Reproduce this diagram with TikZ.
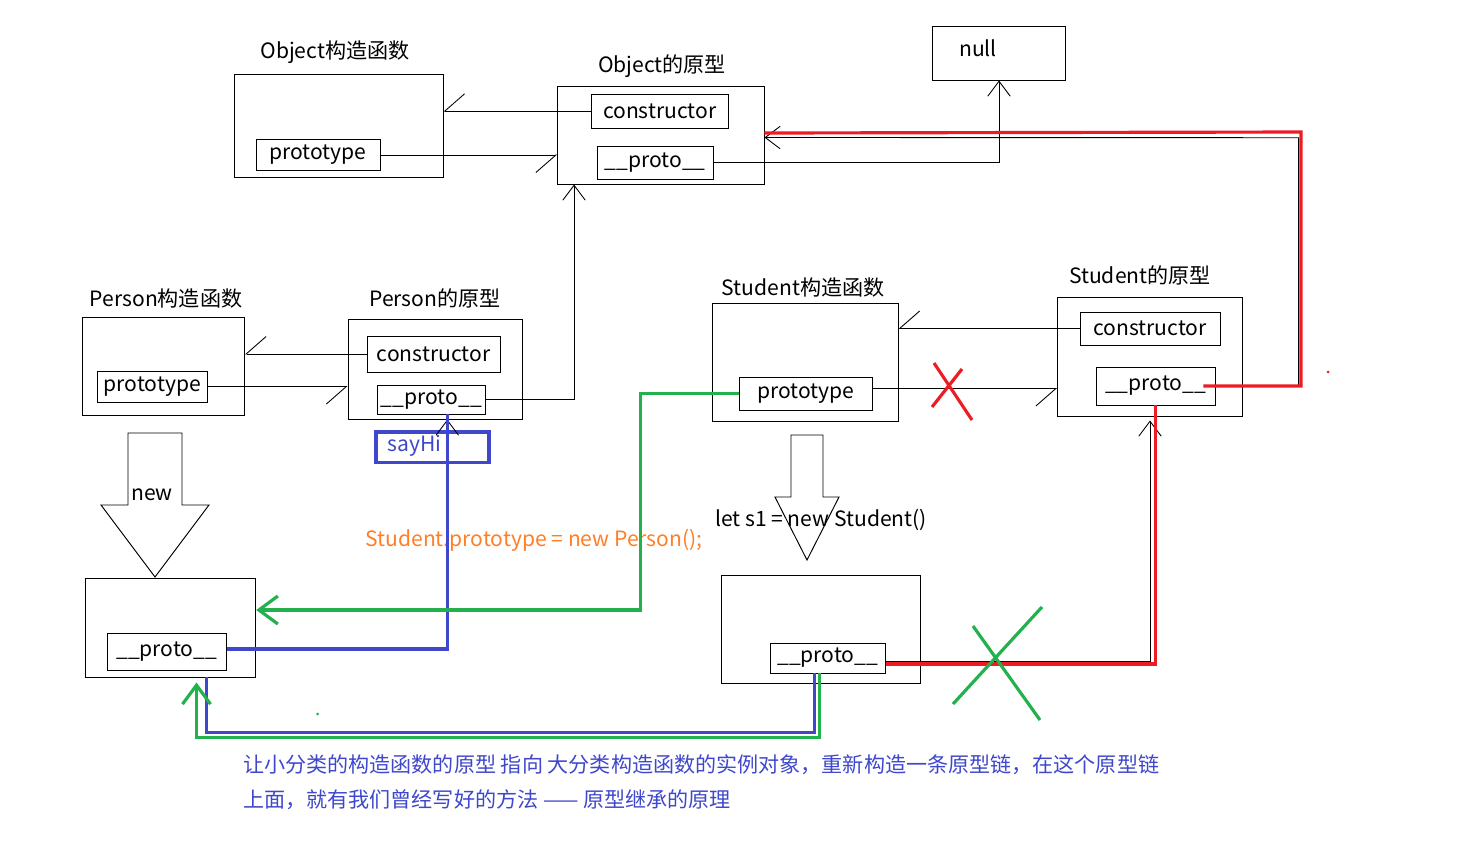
\documentclass[tikz,border=0pt]{standalone}
\usepackage{fontspec}
\setmainfont{Noto Sans CJK SC}
\usetikzlibrary{arrows.meta}
\definecolor{paintred}{RGB}{237,28,36}
\definecolor{paintgreen}{RGB}{34,177,76}
\definecolor{paintblue}{RGB}{63,72,204}
\definecolor{paintorange}{RGB}{255,127,39}

\begin{document}
\begin{tikzpicture}[x=0.02cm,y=-0.02cm,
    font=\fontsize{12}{14}\selectfont,
    box/.style={draw,line width=0.55pt,inner sep=0pt},
    half/.style={line width=0.5pt,-{Straight Barb[harpoon,swap,length=0.4cm,width=0.7cm]}},
    vee/.style={line width=0.5pt,-{Straight Barb[length=0.3cm,width=0.45cm]}},
    redline/.style={paintred,line width=1.8pt},
    greenline/.style={paintgreen,line width=1.8pt},
    greenarr/.style={greenline,-{Straight Barb[length=0.38cm,width=0.56cm]}},
    blueline/.style={paintblue,line width=1.8pt}]
  \fill[white] (0,0) rectangle (1468,850);
  \useasboundingbox (0,0) rectangle (1468,850);
  % Object
  \node[box,minimum width=4.18cm,minimum height=2.06cm] (objfn) at (338.5,125.5) {};
  \node[box,minimum width=2.48cm,minimum height=0.62cm] (objfnpt) at (318,155) {prototype};
  \node[box,minimum width=4.13cm,minimum height=1.96cm] (objproto) at (660.75,135) {};
  \node[box,minimum width=2.73cm,minimum height=0.67cm] (objcons) at (659.75,111.25) {constructor};
  \node[box,minimum width=2.31cm,minimum height=0.66cm] (objpp) at (655.25,162.5) {\_\_proto\_\_};
  \node[box,minimum width=2.66cm,minimum height=1.07cm] (null) at (999,53.25) {};
  \node (nulltxt) at (978,48) {null};
  \node (objfnt) at (335,52) {Object构造函数};
  \node (objprotot) at (662,66) {Object的原型};
  % Person
  \node[box,minimum width=3.24cm,minimum height=1.96cm] (perfn) at (163.5,366) {};
  \node[box,minimum width=2.21cm,minimum height=0.62cm] (perfnpt) at (152.3,386.5) {prototype};
  \node[box,minimum width=3.48cm,minimum height=2.0cm] (perproto) at (435,369) {};
  \node[box,minimum width=2.66cm,minimum height=0.72cm] (percons) at (433.5,354) {constructor};
  \node[box,minimum width=2.17cm,minimum height=0.58cm] (perpp) at (431.3,399.5) {\_\_proto\_\_};
  \node (perfnt) at (166,298) {Person构造函数};
  \node (perprotot) at (435,298) {Person的原型};
  \node[draw=paintblue,line width=1.8pt,minimum width=2.26cm,minimum height=0.61cm] (sayhi) at (432.5,447.3) {};
  \node[paintblue,anchor=west,inner sep=0pt] (sayhitxt) at (387,446) {sayHi};
  % Student
  \node[box,minimum width=3.71cm,minimum height=2.36cm] (stufn) at (805.25,362) {};
  \node[box,minimum width=2.67cm,minimum height=0.66cm] (stufnpt) at (805.75,393.5) {prototype};
  \node[box,minimum width=3.70cm,minimum height=2.38cm] (stuproto) at (1150,356.5) {};
  \node[box,minimum width=2.80cm,minimum height=0.66cm] (stucons) at (1150,328.5) {constructor};
  \node[box,minimum width=2.38cm,minimum height=0.76cm] (stupp) at (1155.5,386) {\_\_proto\_\_};
  \node (stufnt) at (803,287) {Student构造函数};
  \node (stuprotot) at (1140,275) {Student的原型};
  % instances
  \node[box,minimum width=3.41cm,minimum height=1.98cm] (perobj) at (170.5,627.5) {};
  \node[box,minimum width=2.39cm,minimum height=0.74cm] (perobjpp) at (166.75,651.5) {\_\_proto\_\_};
  \node[box,minimum width=3.98cm,minimum height=2.16cm] (stuobj) at (820.5,629) {};
  \node[box,minimum width=2.31cm,minimum height=0.60cm] (stuobjpp) at (827.75,658) {\_\_proto\_\_};
  % new arrows
  \draw[line width=0.55pt] (128,433) -- (182,433) -- (182,505) -- (209,505) -- (155,577)
    -- (101,505) -- (128,505) -- cycle;
  \draw[line width=0.55pt] (791,435) -- (823,435) -- (823,497) -- (839,497) -- (807,560)
    -- (775,497) -- (791,497) -- cycle;
  \node (newtxt) at (152,495) {new};
  \node (lettxt) at (821,520) {let s1 = new Student()};
  \node[paintorange] (assigntxt) at (534,540) {Student.prototype = new Person();};
  % black links
  \draw[half] (objcons.west) -- (objcons.west -| objfn.east);
  \draw[half] (objfnpt.east) -- (objfnpt.east -| objproto.west);
  \draw[vee] (objpp.east) -| (null.south);
  \draw[half] (percons.west) -- (percons.west -| perfn.east);
  \draw[half] (perfnpt.east) -- (perfnpt.east -| perproto.west);
  \draw[vee] (perpp.east) -| ([xshift=0.34cm]objproto.south west);
  \draw[half] (stucons.west) -- (stucons.west -| stufn.east);
  \draw[half] ([yshift=0.1cm]stufnpt.east) -- ([yshift=0.1cm]stufnpt.east -| stuproto.west);
  \coordinate (rt) at (1298.6,137.7);
  \draw[vee] (stupp.east) -| (rt) -- ([yshift=-0.05cm]objproto.east);
  \draw[vee] ([yshift=0.07cm]perobjpp.east) -| ([xshift=0.32cm,yshift=-0.1cm]perpp.south);
  \draw[vee] ([yshift=-0.06cm]stuobjpp.east) -| ([xshift=-0.11cm,yshift=-0.3cm]stupp.south);
  % coloured overlays
  \coordinate (rr) at (1301,132);
  \draw[redline] ([xshift=-0.24cm]stupp.east) -| (rr) -- ([yshift=0.04cm]objproto.east);
  \draw[redline] ([yshift=-0.12cm]stuobjpp.east) -| (stupp.south);
  \draw[blueline] ([xshift=0.32cm]perpp.south) |- ([yshift=0.05cm]perobjpp.east);
  \draw[greenarr] (stufnpt.west) -- ++(-98,0) |- ([yshift=0.35cm]perobj.east);
  \draw[blueline] ([xshift=-0.27cm]stuobjpp.south) -- ++(0,59) -| ([xshift=0.72cm]perobj.south);
  \draw[greenarr] ([xshift=-0.17cm]stuobjpp.south) -- ++(0,64) -| ([xshift=0.52cm,yshift=-0.1cm]perobj.south);
  % crosses and dots
  \draw[redline] (934,363) -- (972,420) (962,369) -- (932,407);
  \draw[greenline] (973,626) -- (1040,720) (1042,607) -- (953,704);
  \fill[paintred] (1328,372) circle (1.5);
  \fill[paintgreen] (317.6,714) circle (1.5);
  % note
  \node[paintblue,anchor=west] (note1) at (237,765) {让小分类的构造函数的原型 指向 大分类构造函数的实例对象，重新构造一条原型链，在这个原型链};
  \node[paintblue,anchor=west] (note2) at (237,800) {上面，就有我们曾经写好的方法 —— 原型继承的原理};
\end{tikzpicture}
\end{document}
